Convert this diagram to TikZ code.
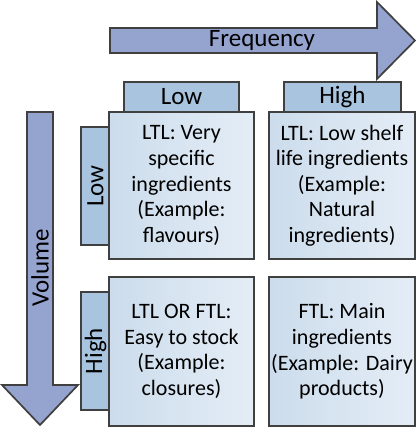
\documentclass[tikz,border=0pt]{standalone}
\usepackage{fontspec}
\setmainfont{Carlito}
\definecolor{arrowfill}{HTML}{95A3CF}
\definecolor{hdrfill}{HTML}{A8C4DF}
\definecolor{cellA}{HTML}{CCDCEC}
\definecolor{cellB}{HTML}{E4EDF6}
\definecolor{edge}{HTML}{404040}
\tikzset{
  arrowshape/.style={draw=edge, line width=1.7pt, fill=arrowfill, line join=miter},
  hdr/.style={draw=edge, line width=1.7pt, fill=hdrfill, inner sep=0pt,
    font=\fontsize{25}{29}\selectfont},
  cell/.style={draw=edge, line width=1.7pt, left color=cellA, right color=cellB,
    inner sep=0pt, align=center, font=\fontsize{22}{25.6}\selectfont},
  biglabel/.style={font=\fontsize{25}{29}\selectfont, inner sep=0pt}
}
\begin{document}
\begin{tikzpicture}[x=1pt,y=-1pt]
\useasboundingbox (0,0) rectangle (419,428);
% Frequency arrow
\draw[arrowshape] (110,28) -- (377,28) -- (377,2) -- (415,40.5) -- (377,79) -- (377,53) -- (110,53) -- cycle;
\node[biglabel] (freq) at (262,40.5) {Frequency};
% Volume arrow
\draw[arrowshape] (27,112) -- (53,112) -- (53,385) -- (78,385) -- (40,425) -- (2,385) -- (27,385) -- cycle;
\node[biglabel, rotate=90] (vol) at (40,268) {Volume};
% headers
\node[hdr, minimum width=115pt, minimum height=30pt] (hlow) at (181.5,97) {Low};
\node[hdr, minimum width=117pt, minimum height=30pt] (hhigh) at (342.5,97) {High};
\node[hdr, rotate=90, minimum width=118pt, minimum height=29pt] (vlow) at (95.5,186) {Low};
\node[hdr, rotate=90, minimum width=118pt, minimum height=29pt] (vhigh) at (95.5,351) {High};
% cells
\node[cell, minimum width=145pt, minimum height=147pt] (c11) at (181.5,185.5)
  {LTL: Very\\specific\\ingredients\\(Example:\\flavours)};
\node[cell, minimum width=146pt, minimum height=147pt] (c12) at (342,185.5)
  {LTL: Low shelf\\life ingredients\\(Example:\\Natural\\ingredients)};
\node[cell, minimum width=145pt, minimum height=149pt] (c21) at (181.5,351.5)
  {LTL OR FTL:\\Easy to stock\\(Example:\\closures)};
\node[cell, minimum width=146pt, minimum height=149pt] (c22) at (342,351.5)
  {FTL: Main\\ingredients\\(Example: Dairy\\products)};
\end{tikzpicture}
\end{document}
